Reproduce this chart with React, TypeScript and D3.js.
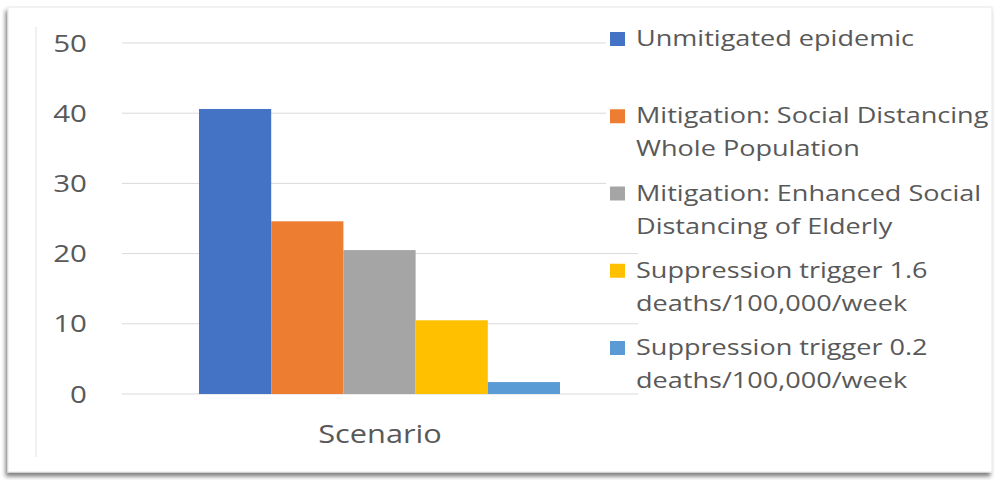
import React from "react";
import * as d3 from "d3";

const seriesNames = [
  "Unmitigated epidemic",
  "Mitigation: Social Distancing Whole Population",
  "Mitigation: Enhanced Social Distancing of Elderly",
  "Suppression trigger 1.6 deaths/100,000/week",
  "Suppression trigger 0.2 deaths/100,000/week",
];
const legendLines = [
  ["Unmitigated epidemic"],
  ["Mitigation: Social Distancing", "Whole Population"],
  ["Mitigation: Enhanced Social", "Distancing of Elderly"],
  ["Suppression trigger 1.6", "deaths/100,000/week"],
  ["Suppression trigger 0.2", "deaths/100,000/week"],
];
const values = [40.6, 24.6, 20.5, 10.5, 1.7];
const colors = ["#4472C4", "#ED7D31", "#A5A5A5", "#FFC000", "#5B9BD5"];
const yTicks = [0, 10, 20, 30, 40, 50];
const category = "Scenario";

const W = 995;
const H = 480;
const FONT = "'Open Sans', sans-serif";
const TEXT = "#595959";
const SX = 1.23; // horizontal stretch of the source image

export default function App() {
  const y = d3.scaleLinear().domain([0, 50]).range([394, 43]);
  const x = d3.scaleBand<string>().domain(seriesNames).range([199, 560]).padding(0);
  const legendY = d3.scaleLinear().domain([0, 4]).range([46, 355]);

  return (
    <svg
      width={W}
      height={H}
      style={{ position: "absolute", left: 0, top: 0, background: "#fff" }}
    >
      <defs>
        <filter id="shadow" x="-5%" y="-5%" width="110%" height="115%">
          <feDropShadow dx="-2" dy="4" stdDeviation="2" floodColor="#000" floodOpacity="0.5" />
        </filter>
      </defs>
      <rect x={8} y={7} width={984} height={465} fill="#fff" stroke="#e6e6e6" strokeWidth={1} filter="url(#shadow)" />
      <line x1={36} x2={36} y1={27} y2={457} stroke="#e3e3e3" strokeWidth={1} />

      {yTicks.map((t) => (
        <g key={t}>
          <line x1={122} x2={638} y1={y(t)} y2={y(t)} stroke="#d9d9d9" strokeWidth={1} />
          <text
            transform={`translate(87,${y(t) + 8.5}) scale(${SX},1)`}
            textAnchor="end"
            fontFamily={FONT}
            fontSize={24}
            fill={TEXT}
          >
            {t}
          </text>
        </g>
      ))}

      {seriesNames.map((s, i) => (
        <rect
          key={s}
          x={x(s)!}
          y={y(values[i])}
          width={x.bandwidth()}
          height={y(0) - y(values[i])}
          fill={colors[i]}
        />
      ))}

      <text
        transform={`translate(380,443) scale(${SX},1)`}
        textAnchor="middle"
        fontFamily={FONT}
        fontSize={25}
        fill={TEXT}
      >
        {category}
      </text>

      <rect x={606} y={20} width={380} height={225} fill="#fff" />
      {legendLines.map((lines, i) => {
        const by = legendY(i);
        return (
          <g key={i}>
            <rect x={610} y={by - 14} width={15} height={14} fill={colors[i]} />
            {lines.map((ln, j) => (
              <text
                key={j}
                transform={`translate(636,${by + j * 33}) scale(${SX},1)`}
                fontFamily={FONT}
                fontSize={22}
                fill={TEXT}
              >
                {ln}
              </text>
            ))}
          </g>
        );
      })}
    </svg>
  );
}
